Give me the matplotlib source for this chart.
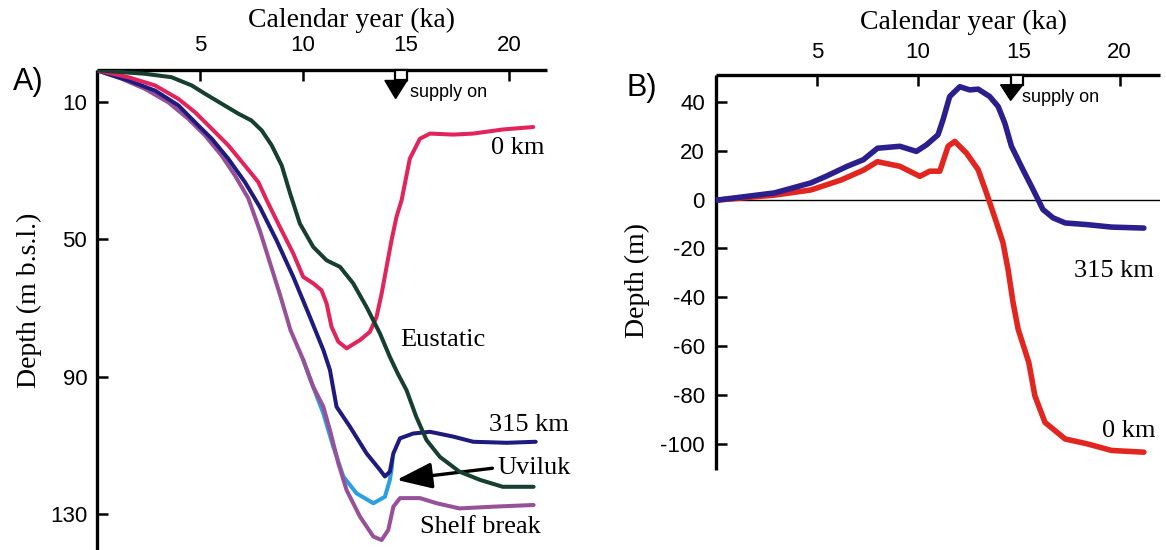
import matplotlib
matplotlib.use("Agg")
import matplotlib.pyplot as plt
from matplotlib.patches import Rectangle, Polygon

plt.rcParams['axes.unicode_minus'] = False
SANS = 'Liberation Sans'
SERIF = 'Liberation Serif'

# ---------------- Panel A: depth histories (m b.s.l.) ----------------
a_xticks = [5, 10, 15, 20]
a_yticks = [10, 50, 90, 130]

eustatic_ka = [0, 2.33, 3.62, 4.6, 5.24, 6.05, 6.86, 7.5, 8.0, 8.48, 8.97, 9.37, 9.85,
               10.5, 11.15, 11.8, 12.44, 13.09, 13.74, 14.22, 14.6, 15.03, 15.5, 16.0,
               16.65, 17.6, 18.6, 19.7, 21.2]
eustatic_depth = [0.8, 1.8, 2.8, 5.2, 7.6, 10.5, 13.4, 15.4, 18.3, 22.6, 28.5, 36.5, 45.4,
                  52.2, 56.1, 58.0, 62.8, 69.7, 77.4, 84.2, 89.0, 93.9, 101.6, 108.4,
                  113.3, 117.6, 120.0, 122.0, 122.0]

km0_ka = [0, 1.52, 2.82, 3.95, 4.76, 5.57, 6.37, 7.18, 7.83, 8.24, 8.88, 9.53, 10.01,
          10.5, 10.9, 11.15, 11.39, 11.72, 12.12, 12.77, 13.25, 13.57, 13.82, 14.06,
          14.3, 14.54, 14.79, 15.19, 15.68, 16.17, 17.3, 18.27, 19.72, 21.18]
km0_depth = [0.8, 2.8, 5.2, 9.1, 13.0, 17.8, 22.6, 28.5, 33.3, 38.6, 46.4, 54.1, 60.9,
             62.8, 64.8, 68.7, 75.5, 79.8, 81.7, 79.3, 76.9, 72.6, 65.8, 58.0,
             50.3, 43.5, 38.6, 26.5, 20.7, 19.2, 19.5, 19.2, 18.0, 17.3]

km315_ka = [0, 1.52, 2.82, 3.95, 4.76, 5.57, 6.37, 7.18, 7.91, 8.72, 9.53, 10.34, 10.99,
            11.31, 11.63, 12.28, 13.09, 13.74, 13.98, 14.22, 14.39, 14.71, 15.35, 16.17,
            17.3, 18.27, 19.9, 21.3]
km315_depth = [0.8, 3.75, 6.7, 11.0, 15.9, 20.7, 26.5, 33.3, 40.6, 50.3, 60.9, 72.6, 82.2,
               88.0, 98.7, 104.5, 112.3, 117.1, 119.0, 117.6, 112.3, 107.9, 106.5, 106.0,
               107.4, 108.9, 109.2, 108.9]

shelf_ka = [0, 1.2, 2.33, 3.46, 4.43, 5.24, 6.05, 6.7, 7.35, 7.91, 8.88, 9.4, 10.01,
            10.5, 10.99, 11.31, 11.72, 12.12, 12.77, 13.42, 13.82, 14.14, 14.39, 14.71,
            15.68, 16.5, 17.6, 19.2, 21.2]
shelf_depth = [0.8, 3.25, 6.2, 10.1, 14.9, 19.7, 25.6, 31.4, 38.1, 47.5, 66.0, 76.5, 85.0,
               92.9, 98.7, 105.5, 115.2, 123.0, 130.7, 136.5, 137.5, 134.6, 127.8, 125.3,
               125.3, 126.8, 128.3, 127.8, 127.3]

uviluk_ka = [10.01, 10.34, 10.99, 11.47, 11.96, 12.6, 13.42, 13.98, 14.22, 14.3, 14.35]
uviluk_depth = [85.0, 90.5, 100.6, 110.3, 119.0, 123.9, 126.8, 124.9, 120.0, 117.1, 114.0]

# ---------------- Panel B: relative depth (m) ----------------
b_xticks = [5, 10, 15, 20]
b_yticks = [40, 20, 0, -20, -40, -60, -80, -100]

b315_ka = [0, 2.9, 4.7, 5.45, 6.5, 7.3, 8.0, 8.55, 9.11, 9.93, 10.43, 11.0, 11.25, 11.58,
           12.08, 12.57, 12.99, 13.56, 13.98, 14.31, 14.64, 15.21, 15.71, 16.2, 16.7,
           17.3, 18.4, 19.6, 21.2]
b315_val = [-0.3, 2.7, 6.8, 9.5, 13.6, 16.3, 21.0, 21.4, 21.8, 19.7, 22.4, 26.5, 32.7,
            42.2, 46.2, 44.9, 45.2, 42.2, 38.1, 31.3, 21.8, 12.2, 4.1, -4.1, -7.5,
            -9.6, -10.3, -11.3, -11.7]

b0_ka = [0, 2.9, 4.7, 6.2, 7.3, 8.0, 8.4, 9.11, 10.1, 10.59, 11.09, 11.5, 11.83, 12.41,
         12.99, 13.4, 13.9, 14.22, 14.47, 14.72, 14.97, 15.5, 15.8, 16.3, 17.3, 18.4,
         19.6, 21.2]
b0_val = [-0.3, 1.8, 3.9, 8.0, 12.0, 15.5, 14.8, 13.6, 9.5, 11.6, 11.6, 21.8, 23.8, 19.0,
          12.2, 2.7, -9.5, -17.7, -28.6, -42.2, -53.1, -66.8, -80.4, -91.3, -98.1,
          -100.1, -102.8, -103.5]

W, H = 1166, 550
fig = plt.figure(figsize=(W / 100, H / 100), dpi=100)


def px_rect(left, top, right, bottom):
    return [left / W, 1 - bottom / H, (right - left) / W, (bottom - top) / H]


def style_axes(ax, xticks, yticks, xpad, ypad):
    for side in ('right', 'bottom'):
        ax.spines[side].set_visible(False)
    for side in ('left', 'top'):
        ax.spines[side].set_linewidth(2.4)
        ax.spines[side].set_capstyle('butt')
    ax.xaxis.tick_top()
    ax.set_xticks(xticks)
    ax.set_xticklabels([str(t) for t in xticks])
    ax.set_yticks(yticks)
    ax.set_yticklabels([str(t) for t in yticks])
    ax.tick_params(axis='x', direction='in', length=8, width=1.8, pad=xpad,
                   labelsize=16)
    ax.tick_params(axis='y', direction='in', length=8, width=1.8, pad=ypad,
                   labelsize=16)
    for lab in ax.get_xticklabels() + ax.get_yticklabels():
        lab.set_fontfamily(SANS)


def supply_arrow(ax, x0, x1, y_top, y_mid, xl, x_tip, y_tip, tx, ty):
    ax.add_patch(Rectangle((x0, y_top), x1 - x0, y_mid - y_top, facecolor='white',
                           edgecolor='black', lw=1.6, clip_on=False, zorder=6))
    ax.add_patch(Polygon([(xl, y_mid), (x1, y_mid), (x_tip, y_tip)], closed=True,
                         facecolor='black', edgecolor='black', lw=1, clip_on=False,
                         zorder=6))
    ax.text(tx, ty, 'supply on', fontfamily=SANS, fontsize=13, ha='left',
            va='center', zorder=7)


line_kw = dict(solid_capstyle='round', solid_joinstyle='round')

# ---- Panel A ----
axA = fig.add_axes(px_rect(97, 70, 547, 550))
axA.set_xlim(0, 21.85)
axA.set_ylim(140.4, 0.7)
style_axes(axA, a_xticks, a_yticks, xpad=10, ypad=7)

lw_a = 2.9
axA.plot(uviluk_ka, uviluk_depth, color='#2b9fe0', lw=lw_a, zorder=2, **line_kw)
axA.plot(shelf_ka, shelf_depth, color='#975199', lw=lw_a, zorder=3, **line_kw)
axA.plot(km315_ka, km315_depth, color='#1f1a7e', lw=lw_a, zorder=3, **line_kw)
axA.plot(km0_ka, km0_depth, color='#e2245c', lw=lw_a, zorder=3, **line_kw)
axA.plot(eustatic_ka, eustatic_depth, color='#163f30', lw=lw_a, zorder=4, **line_kw)

axA.set_ylabel('Depth (m b.s.l.)', fontfamily=SERIF, fontsize=20)
axA.yaxis.set_label_coords(-0.122, 0.52)

lab_kw = dict(fontfamily=SERIF, fontsize=19, ha='left', va='center', clip_on=False)
axA.text(19.15, 23.5, '0 km', **lab_kw)
axA.text(14.7, 79.3, 'Eustatic', **lab_kw)
axA.text(19.05, 104.0, '315 km', **lab_kw)
axA.text(19.45, 116.5, 'Uviluk', **lab_kw)
axA.text(15.7, 133.7, 'Shelf break', **lab_kw)
axA.annotate('', xy=(14.55, 120.0), xytext=(19.2, 116.6),
             arrowprops=dict(arrowstyle='-|>,head_length=1.55,head_width=0.57',
                             color='black', lw=2.4, mutation_scale=14,
                             shrinkA=0, shrinkB=0))

supply_arrow(axA, 14.47, 15.05, 0.75, 3.75, 13.98, 14.5, 9.0, 15.2, 7.2)

# ---- Panel B ----
axB = fig.add_axes(px_rect(716, 75, 1160, 470))
axB.set_xlim(0, 22.0)
axB.set_ylim(-110.8, 51.0)
style_axes(axB, b_xticks, b_yticks, xpad=9, ypad=8)
axB.axhline(0, color='black', lw=1.0, zorder=1)

lw_b = 4.0
axB.plot(b0_ka, b0_val, color='#e2261f', lw=lw_b, zorder=3, **line_kw)
axB.plot(b315_ka, b315_val, color='#2a1f8c', lw=lw_b, zorder=4, **line_kw)

axB.set_ylabel('Depth (m)', fontfamily=SERIF, fontsize=20)
axB.yaxis.set_label_coords(-0.149, 0.48)

axB.text(17.75, -29.4, '315 km', **lab_kw)
axB.text(19.15, -94.7, '0 km', **lab_kw)

supply_arrow(axB, 14.6, 15.2, 50.9, 47.0, 14.1, 14.6, 40.6, 15.15, 41.6)

# ---- titles and panel letters ----
fig.text(352 / W, 1 - 20 / H, 'Calendar year (ka)', fontfamily=SERIF, fontsize=20,
         ha='center', va='center')
fig.text(964 / W, 1 - 22 / H, 'Calendar year (ka)', fontfamily=SERIF, fontsize=20,
         ha='center', va='center')
fig.text(28 / W, 1 - 82 / H, 'A)', fontfamily=SANS, fontsize=22, ha='center', va='center')
fig.text(642 / W, 1 - 88 / H, 'B)', fontfamily=SANS, fontsize=22, ha='center', va='center')

fig.savefig('out.png', dpi=100, facecolor='white')
